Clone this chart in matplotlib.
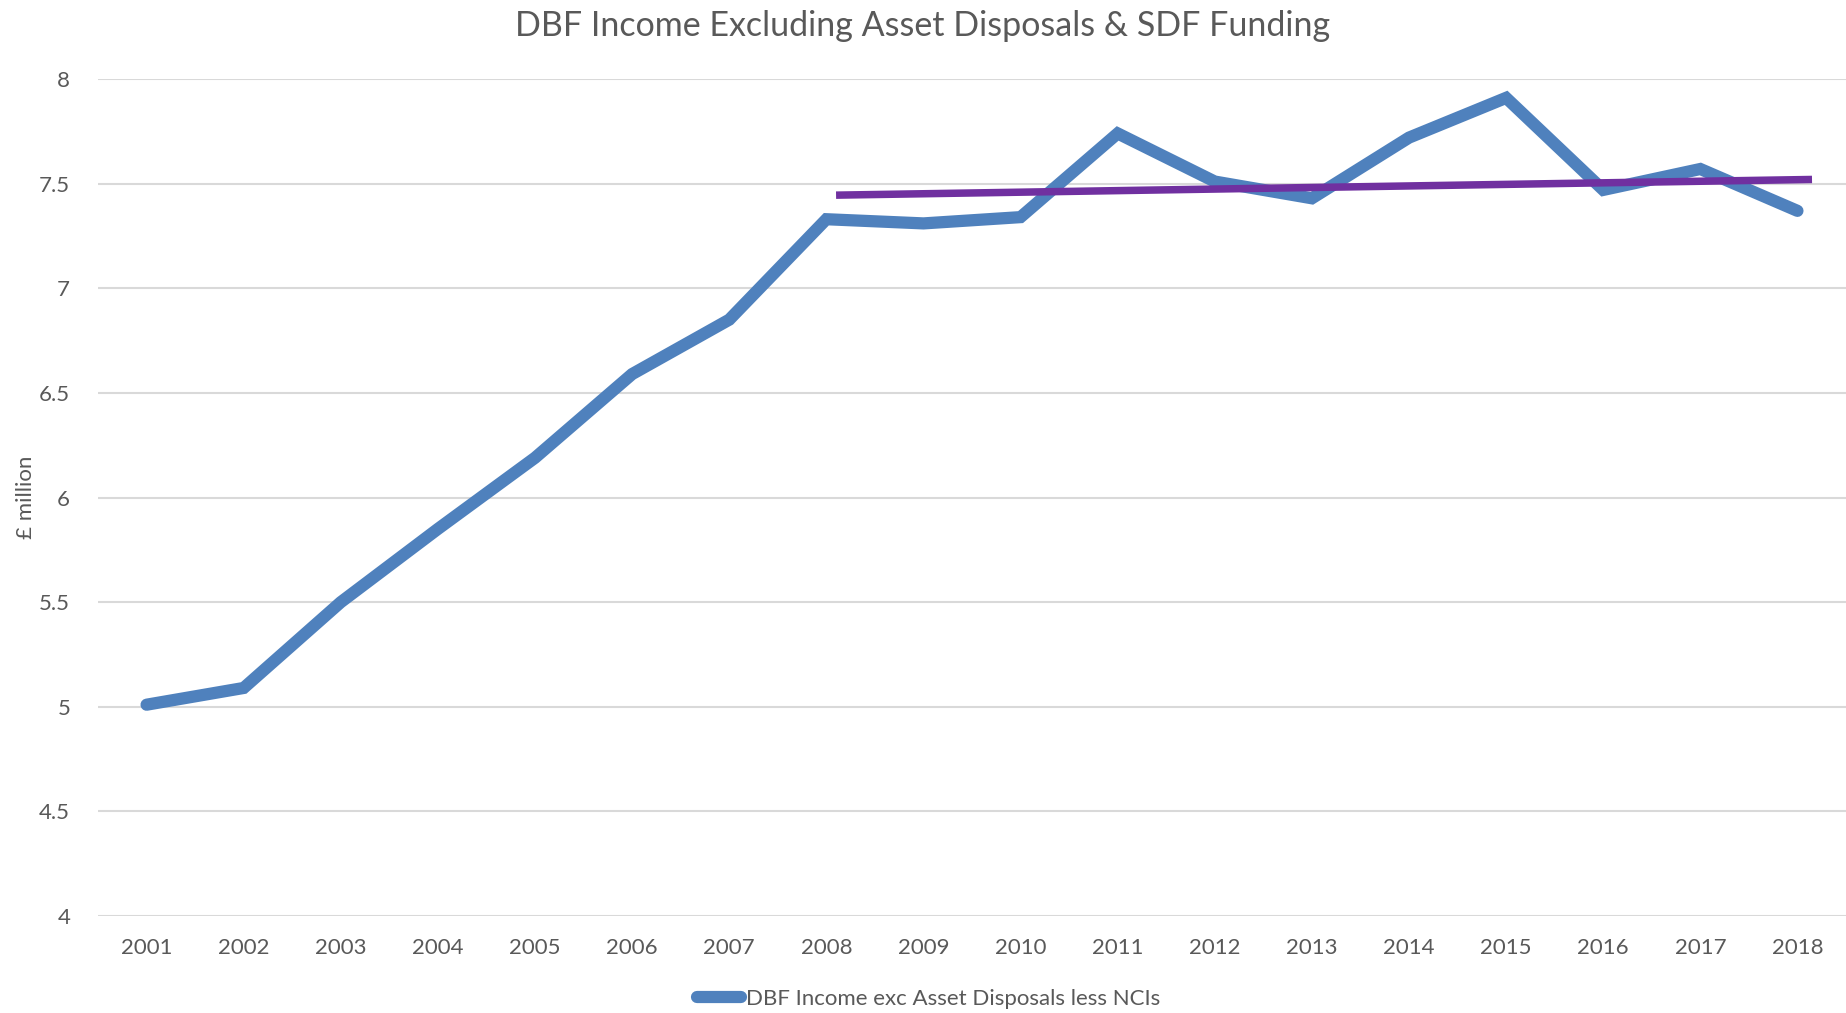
import matplotlib
matplotlib.use("Agg")
from matplotlib import pyplot as plt
import numpy as np

# values (GBP million)
years = [2001, 2002, 2003, 2004, 2005, 2006, 2007, 2008, 2009,
         2010, 2011, 2012, 2013, 2014, 2015, 2016, 2017, 2018]
income = [5.01, 5.09, 5.50, 5.85, 6.19, 6.59, 6.85, 7.33, 7.31,
          7.34, 7.74, 7.51, 7.43, 7.72, 7.91, 7.47, 7.57, 7.37]
trend_years = [2008.1, 2018.15]
trend_values = [7.445, 7.52]
y_ticks = [4, 4.5, 5, 5.5, 6, 6.5, 7, 7.5, 8]

blue = '#4F81BD'
purple = '#7030A0'
grey_text = '#595959'
grid_col = '#D9D9D9'

plt.rcParams['font.family'] = ['Lato', 'DejaVu Sans']

fig = plt.figure(figsize=(18.46, 10.13), dpi=100)
ax = fig.add_axes([0.0531, 0.0957, 0.9469, 0.8263])

line, = ax.plot(years, income, color=blue, linewidth=8.8,
                solid_joinstyle='miter', solid_capstyle='round', zorder=3,
                label='DBF Income exc Asset Disposals less NCIs')
ax.plot(trend_years, trend_values, color=purple, linewidth=5.4,
        solid_capstyle='butt', zorder=4)

ax.set_xlim(2000.5, 2018.5)
ax.set_ylim(4, 8)
ax.set_xticks(years)
ax.set_xticklabels([str(y) for y in years])
ax.set_yticks(y_ticks)
ax.set_yticklabels(['{:g}'.format(v) for v in y_ticks])
ax.tick_params(length=0, labelsize=16, colors=grey_text)
ax.tick_params(axis='x', pad=16)
ax.tick_params(axis='y', pad=20)
ax.grid(axis='y', color=grid_col, linewidth=1.5)
ax.set_axisbelow(True)
for s in ax.spines.values():
    s.set_visible(False)

ax.set_ylabel('£ million', fontsize=16, color=grey_text)
ax.yaxis.set_label_coords(-0.0355, 0.5)

fig.text(0.5, 0.974, 'DBF Income Excluding Asset Disposals & SDF Funding',
         ha='center', va='center', fontsize=24.5, color=grey_text)

fig.legend(handles=[line], loc='center', bbox_to_anchor=(0.503, 0.014),
           frameon=False, fontsize=16, handlelength=2.0, handletextpad=0.2,
           labelcolor=grey_text)

plt.savefig('out.png', dpi=100)
